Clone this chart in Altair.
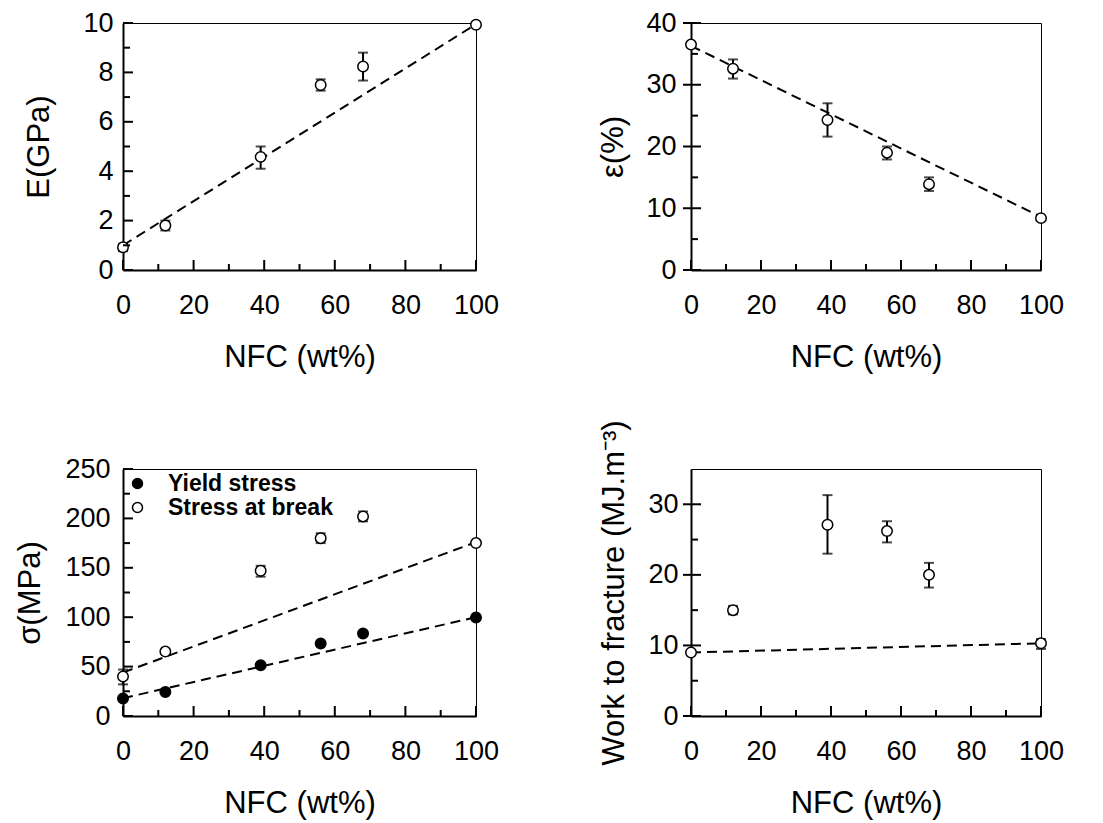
import altair as alt
import pandas as pd

FONT = "Liberation Sans"

# ---------------- data ----------------
nfc = [0, 12, 39, 56, 68, 100]

modulus = [0.92, 1.80, 4.58, 7.49, 8.24, 9.93]
modulus_lo = [0.76, 1.60, 4.10, 7.26, 7.67, 9.85]
modulus_hi = [1.06, 2.00, 5.00, 7.72, 8.80, 10.0]

strain = [36.5, 32.6, 24.3, 19.0, 13.9, 8.4]
strain_lo = [36.3, 31.0, 21.6, 17.9, 12.8, 8.1]
strain_hi = [36.7, 34.1, 27.0, 20.0, 15.0, 8.7]

yield_stress = [17.6, 24.3, 51.4, 73.3, 83.4, 99.7]
break_stress = [40.0, 65.2, 147.0, 180.0, 202.0, 175.0]
break_lo = [32.0, 63.5, 141.0, 175.0, 197.0, 173.5]
break_hi = [47.0, 67.0, 152.0, 185.0, 207.0, 176.5]

work = [9.0, 15.0, 27.1, 26.2, 20.0, 10.3]
work_lo = [8.7, 14.4, 23.0, 24.6, 18.2, 9.5]
work_hi = [9.3, 15.6, 31.3, 27.6, 21.7, 10.9]

fit_x = [0, 100]
modulus_fit = [1.0, 9.95]
strain_fit = [36.3, 8.6]
yield_fit = [18.0, 100.0]
break_fit = [44.0, 176.0]
work_fit = [9.0, 10.3]

series_names = ["Yield stress", "Stress at break"]

x_major = [0, 20, 40, 60, 80, 100]
x_minor = [10, 30, 50, 70, 90]

E_major = [0, 2, 4, 6, 8, 10]
E_minor = [1, 3, 5, 7, 9]
eps_major = [0, 10, 20, 30, 40]
eps_minor = [5, 15, 25, 35]
sig_major = [0, 50, 100, 150, 200, 250]
sig_minor = [25, 75, 125, 175, 225]
w_major = [0, 10, 20, 30]
w_minor = [5, 15, 25]

XTITLE = "NFC (wt%)"


def make_panel(pts, err, fits, ytitle, ydom, ymaj, ymin, w, h, tpad, lpad,
               cross=False, legend=None):
    xs = alt.Scale(domain=[0, 100], nice=False, zero=False)
    ys = alt.Scale(domain=ydom, nice=False, zero=False)
    xaxis = alt.Axis(values=x_major, format="d", grid=False, ticks=False, tickSize=0,
                     labelFontSize=27, labelPadding=22, labelFont=FONT, labelColor="black",
                     labelFlush=False, labelOverlap=False,
                     titleFontSize=31, titlePadding=24, titleFont=FONT,
                     titleFontWeight="normal", titleColor="black",
                     domainWidth=2, domainColor="black")
    yaxis = alt.Axis(values=ymaj, format="d", grid=False, ticks=False, tickSize=0,
                     labelFontSize=27, labelPadding=lpad, labelFont=FONT, labelColor="black",
                     labelFlush=False, labelOverlap=False,
                     titleFontSize=31, titlePadding=tpad, titleFont=FONT,
                     titleFontWeight="normal", titleColor="black",
                     domainWidth=2, domainColor="black")

    def ex(f):
        return alt.X(f"{f}:Q", scale=xs, title=XTITLE, axis=xaxis)

    def ey(f):
        return alt.Y(f"{f}:Q", scale=ys, title=ytitle, axis=yaxis)

    layers = []
    # fitted dashed lines
    layers.append(
        alt.Chart(fits).mark_line(color="black", strokeWidth=2, strokeDash=[10, 6])
        .encode(x=ex("x"), y=ey("y"), detail="series:N")
    )
    # error bars
    layers.append(
        alt.Chart(err).mark_rule(color="black", strokeWidth=2)
        .encode(x=ex("x"), y=ey("lo"), y2=alt.Y2("hi"))
    )
    caps = pd.concat([
        pd.DataFrame({"x": err["x"], "y": err["lo"]}),
        pd.DataFrame({"x": err["x"], "y": err["hi"]}),
    ])
    layers.append(
        alt.Chart(caps).mark_tick(orient="horizontal", size=10, thickness=2, color="black")
        .encode(x=ex("x"), y=ey("y"))
    )
    # points
    if legend is None:
        layers.append(
            alt.Chart(pts).mark_point(shape="circle", size=110, filled=True, fill="white",
                                      stroke="black", strokeWidth=1.5, opacity=1)
            .encode(x=ex("x"), y=ey("y"))
        )
    else:
        layers.append(
            alt.Chart(pts).mark_point(shape="circle", size=110, filled=True,
                                      stroke="black", strokeWidth=1.5, opacity=1)
            .encode(x=ex("x"), y=ey("y"),
                    fill=alt.Fill("series:N",
                                  scale=alt.Scale(domain=series_names, range=["black", "white"]),
                                  legend=legend))
        )
    # inward ticks
    xmaj = pd.DataFrame({"v": x_major})
    xmin = pd.DataFrame({"v": x_minor})
    layers.append(alt.Chart(xmaj).mark_rule(color="black", strokeWidth=2)
                  .encode(x=ex("v"), y=alt.value(h), y2=alt.value(h - 10)))
    layers.append(alt.Chart(xmin).mark_rule(color="black", strokeWidth=2)
                  .encode(x=ex("v"), y=alt.value(h), y2=alt.value(h - 6)))
    ymajd = pd.DataFrame({"v": ymaj})
    ymind = pd.DataFrame({"v": ymin})
    x0 = -8 if cross else 0
    layers.append(alt.Chart(ymajd).mark_rule(color="black", strokeWidth=2)
                  .encode(y=ey("v"), x=alt.value(x0), x2=alt.value(10)))
    layers.append(alt.Chart(ymind).mark_rule(color="black", strokeWidth=2)
                  .encode(y=ey("v"), x=alt.value(0), x2=alt.value(7)))

    return alt.layer(*layers).properties(width=w, height=h)


def pts_df(y):
    return pd.DataFrame({"x": nfc, "y": y})


def err_df(lo, hi):
    return pd.DataFrame({"x": nfc, "lo": lo, "hi": hi})


def fit_df(y, name="fit"):
    return pd.DataFrame({"x": fit_x, "y": y, "series": [name] * len(fit_x)})


p1 = make_panel(pts_df(modulus), err_df(modulus_lo, modulus_hi), fit_df(modulus_fit),
                "E(GPa)", [0, 10], E_major, E_minor, 353, 247, tpad=27, lpad=10)

p2 = make_panel(pts_df(strain), err_df(strain_lo, strain_hi), fit_df(strain_fit),
                "ε(%)", [0, 40], eps_major, eps_minor, 350, 247, tpad=16, lpad=15, cross=True)

stress_pts = pd.concat([
    pd.DataFrame({"x": nfc, "y": yield_stress, "series": series_names[0]}),
    pd.DataFrame({"x": nfc, "y": break_stress, "series": series_names[1]}),
])
stress_fit = pd.concat([fit_df(yield_fit, series_names[0]), fit_df(break_fit, series_names[1])])
legend3 = alt.Legend(orient="top-left", title=None, labelFontSize=23, labelFontWeight="bold",
                     labelFont=FONT, labelColor="black", labelLimit=400,
                     symbolType="circle", symbolSize=100,
                     symbolStrokeColor="black", symbolStrokeWidth=1.5, offset=3, padding=0,
                     labelOffset=19, rowPadding=0)
p3 = make_panel(stress_pts, err_df(break_lo, break_hi), stress_fit,
                "σ(MPa)", [0, 250], sig_major, sig_minor, 353, 247, tpad=18, lpad=13,
                legend=legend3)

p4 = make_panel(pts_df(work), err_df(work_lo, work_hi), fit_df(work_fit),
                "Work to fracture (MJ.m⁻³)", [0, 35], w_major, w_minor, 350, 247,
                tpad=17, lpad=13, cross=True)

chart = (
    alt.concat(p1, p2, p3, p4, columns=2, spacing={"row": 199, "column": 215}, bounds="flush")
    .resolve_legend(fill="independent")
    .properties(padding={"left": 6, "top": 0, "right": 5, "bottom": 5}, background="white")
    .configure_view(stroke="black", strokeWidth=1)
)

chart.save("out.html", embed_options={"renderer": "svg", "actions": False})
